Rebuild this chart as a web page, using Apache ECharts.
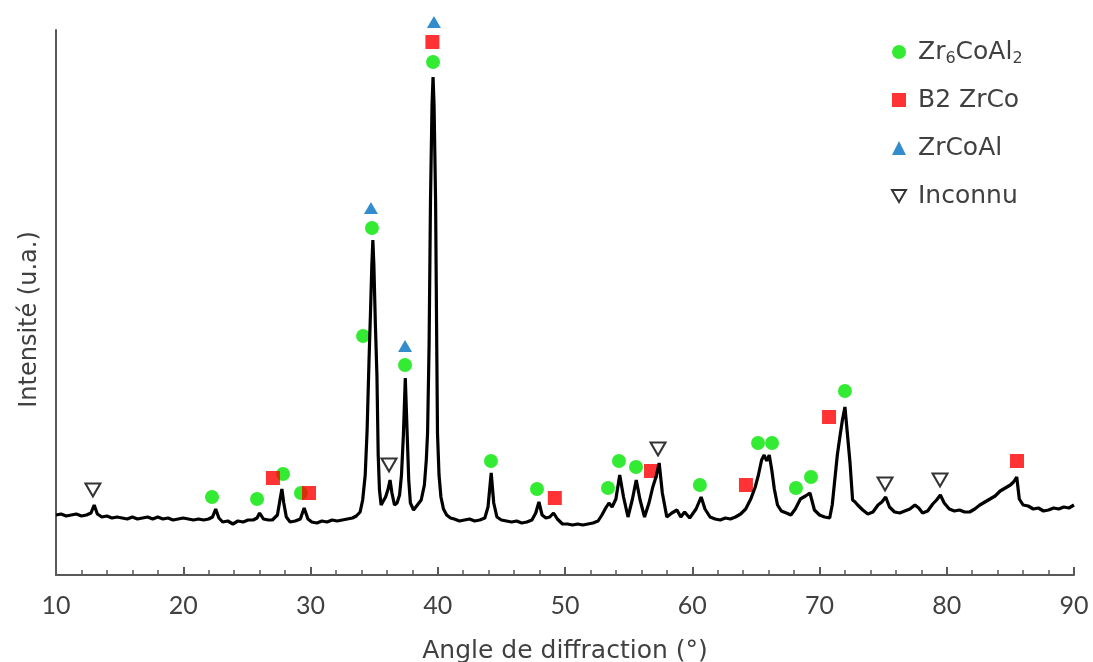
<!DOCTYPE html>
<html>
<head>
<meta charset="utf-8">
<script src="https://cdn.jsdelivr.net/npm/echarts@6/dist/echarts.min.js"></script>
<style>
html,body{margin:0;padding:0;background:#fff;}
#chart{width:1093px;height:662px;}
</style>
</head>
<body>
<div id="chart"></div>
<script>
// XRD pattern (2θ in degrees, intensity in arbitrary units)
const twoTheta = [10.0,10.4,10.8,11.2,11.6,12.0,12.4,12.75,13.0,13.25,13.6,14.0,14.4,14.8,15.2,15.6,16.0,16.4,16.8,17.2,17.6,18.0,18.4,18.8,19.2,19.6,20.0,20.4,20.8,21.2,21.6,22.0,22.3,22.55,22.8,23.1,23.5,23.9,24.3,24.7,25.1,25.5,25.8,26.0,26.3,26.7,27.0,27.4,27.6,27.75,27.9,28.1,28.4,28.8,29.2,29.5,29.8,30.1,30.5,30.9,31.3,31.7,32.1,32.5,32.9,33.3,33.6,33.9,34.1,34.3,34.45,34.6,34.72,34.82,34.9,34.98,35.1,35.22,35.32,35.42,35.55,35.7,35.9,36.1,36.25,36.4,36.6,36.8,37.0,37.15,37.3,37.45,37.6,37.72,37.85,38.1,38.4,38.7,38.95,39.1,39.2,39.32,39.43,39.55,39.63,39.71,39.83,39.92,39.98,40.1,40.25,40.45,40.7,41.0,41.3,41.7,42.1,42.5,42.9,43.3,43.7,43.95,44.2,44.4,44.65,45.0,45.4,45.8,46.2,46.6,47.0,47.4,47.7,47.95,48.2,48.5,48.8,49.1,49.4,49.8,50.2,50.6,51.0,51.4,51.8,52.2,52.6,52.9,53.2,53.45,53.7,54.0,54.3,54.6,54.95,55.3,55.6,55.9,56.25,56.6,56.9,57.15,57.4,57.65,58.0,58.4,58.8,59.1,59.4,59.8,60.3,60.7,61.0,61.4,61.8,62.2,62.6,63.0,63.4,63.8,64.2,64.6,64.95,65.2,65.45,65.65,65.85,66.05,66.25,66.45,66.7,67.0,67.4,67.75,68.1,68.5,68.9,69.25,69.6,70.0,70.4,70.8,71.0,71.2,71.4,71.6,71.8,72.0,72.2,72.4,72.6,72.8,73.0,73.4,73.8,74.2,74.6,74.9,75.2,75.5,75.9,76.3,76.7,77.1,77.5,77.8,78.1,78.5,78.9,79.2,79.5,79.8,80.2,80.6,81.0,81.4,81.8,82.2,82.6,83.0,83.4,83.8,84.2,84.6,85.0,85.25,85.5,85.7,86.0,86.4,86.8,87.2,87.6,88.0,88.4,88.8,89.2,89.6,90.0];
const intensity = [60,61,59,60,61,59,60,62,70,61,58,59,57,58,57,56,58,56,57,58,56,58,56,57,55,56,57,56,55,56,55,56,58,66,57,53,54,51,54,53,55,55,57,62,56,55,55,60,75,86,72,58,53,54,56,67,56,53,52,54,53,55,54,55,56,57,59,63,75,100,145,215,265,310,335,310,250,200,120,85,70,72,78,86,95,82,70,72,80,100,140,197,140,95,72,65,70,75,90,115,142,230,375,470,498,470,375,230,142,100,78,66,60,57,56,54,55,56,54,55,57,68,102,72,58,55,54,53,54,52,53,55,62,73,60,57,58,62,56,51,51,50,51,50,51,52,54,60,67,72,68,76,100,78,58,76,95,75,58,72,88,98,112,82,58,62,65,58,63,57,66,78,66,58,56,55,57,56,58,61,66,76,88,100,115,120,114,120,105,86,70,64,62,60,66,76,79,82,65,60,58,57,70,95,120,138,155,168,140,112,75,73,70,65,61,63,70,73,78,68,63,62,64,66,70,67,62,64,71,75,80,72,66,64,65,63,63,66,70,73,76,79,84,87,90,93,98,76,70,69,66,67,64,65,67,66,68,67,70];

// Phase marker positions [2θ, intensity]
const zr6CoAl2Marks = [[22.26,78],[25.8,76],[27.84,101],[29.25,82],[34.13,239],[34.83,347],[37.43,210],[39.63,513],[44.18,114],[47.8,86],[53.38,87],[54.24,114],[55.58,108],[60.6,90],[65.17,132],[66.27,132],[68.15,87],[69.33,98],[72.0,184]];
const b2ZrCoMarks = [[27.05,97],[29.88,82],[39.58,533],[49.2,77],[56.76,104],[64.22,90],[70.75,158],[85.52,114]];
const zrCoAlMarks = [[34.75,367],[37.43,229],[39.7,553]];
const inconnuMarks = [[12.9,85],[36.17,110],[57.31,126],[75.15,91],[79.47,95]];

const legendNames = ['Zr6CoAl2','B2 ZrCo','ZrCoAl','Inconnu'];
const xTicks = {min:10, max:90, interval:10};

const FONT = '"DejaVu Sans"';
const TICKFONT = 'Lato';
const TXT = '#404040';
const AX = '#595959';

const chart = echarts.init(document.getElementById('chart'));
const pattern = twoTheta.map((x,i)=>[x,intensity[i]]);

chart.setOption({
  animation:false,
  backgroundColor:'#fff',
  grid:{left:56,right:19,top:30,bottom:87,containLabel:false,outerBoundsMode:'none'},
  xAxis:{
    type:'value', min:xTicks.min, max:xTicks.max, interval:xTicks.interval,
    name:'Angle de diffraction (°)', nameLocation:'middle', nameGap:64,
    nameTextStyle:{fontFamily:FONT,fontSize:25,color:TXT},
    axisLine:{lineStyle:{color:AX,width:2}},
    axisTick:{inside:true,length:8,lineStyle:{color:AX,width:2}},
    minorTick:{show:true,splitNumber:5,length:5,lineStyle:{color:AX,width:1.5}},
    axisLabel:{margin:18,fontFamily:TICKFONT,fontSize:25,color:TXT},
    splitLine:{show:false}
  },
  yAxis:{
    type:'value', min:0, max:545,
    name:'Intensité (u.a.)', nameLocation:'middle', nameGap:14, nameRotate:90,
    nameTextStyle:{fontFamily:FONT,fontSize:24,color:TXT,padding:[0,34,0,0]},
    axisLine:{show:true,lineStyle:{color:AX,width:2}},
    axisTick:{show:false}, axisLabel:{show:false}, splitLine:{show:false}
  },
  legend:{
    orient:'vertical', left:891, top:37, padding:0,
    itemWidth:14, itemHeight:14, itemGap:18,
    data:legendNames,
    formatter:function(n){ return n==='Zr6CoAl2' ? '{n|Zr}{s|6}{n|CoAl}{s|2}' : n; },
    textStyle:{fontFamily:FONT,fontSize:25,color:TXT,lineHeight:30,padding:[0,0,0,7],
      rich:{n:{fontFamily:FONT,fontSize:25,color:TXT,lineHeight:30},
            s:{fontFamily:FONT,fontSize:16,color:TXT,lineHeight:14,verticalAlign:'bottom'}}}
  },
  series:[
    {type:'line', name:'pattern', data:pattern, showSymbol:false, symbol:'none', z:5,
     lineStyle:{color:'#000',width:3.2}, silent:true},
    {type:'scatter', name:'Zr6CoAl2', data:zr6CoAl2Marks, symbol:'circle', symbolSize:14, clip:false, z:3,
     itemStyle:{color:'#00E600'}},
    {type:'scatter', name:'B2 ZrCo', data:b2ZrCoMarks, symbol:'rect', symbolSize:14, clip:false, z:3,
     itemStyle:{color:'#FF0000'}},
    {type:'scatter', name:'ZrCoAl', data:zrCoAlMarks, symbol:'triangle', symbolSize:[14,12], clip:false, z:3,
     itemStyle:{color:'#0070C0'}},
    {type:'scatter', name:'Inconnu', data:inconnuMarks, symbol:'path://M0,0L20,0L10,17Z', symbolSize:[15,13], clip:false, z:3,
     itemStyle:{color:'#ffffff',borderColor:'#000',borderWidth:2}}
  ]
});
</script>
</body>
</html>
